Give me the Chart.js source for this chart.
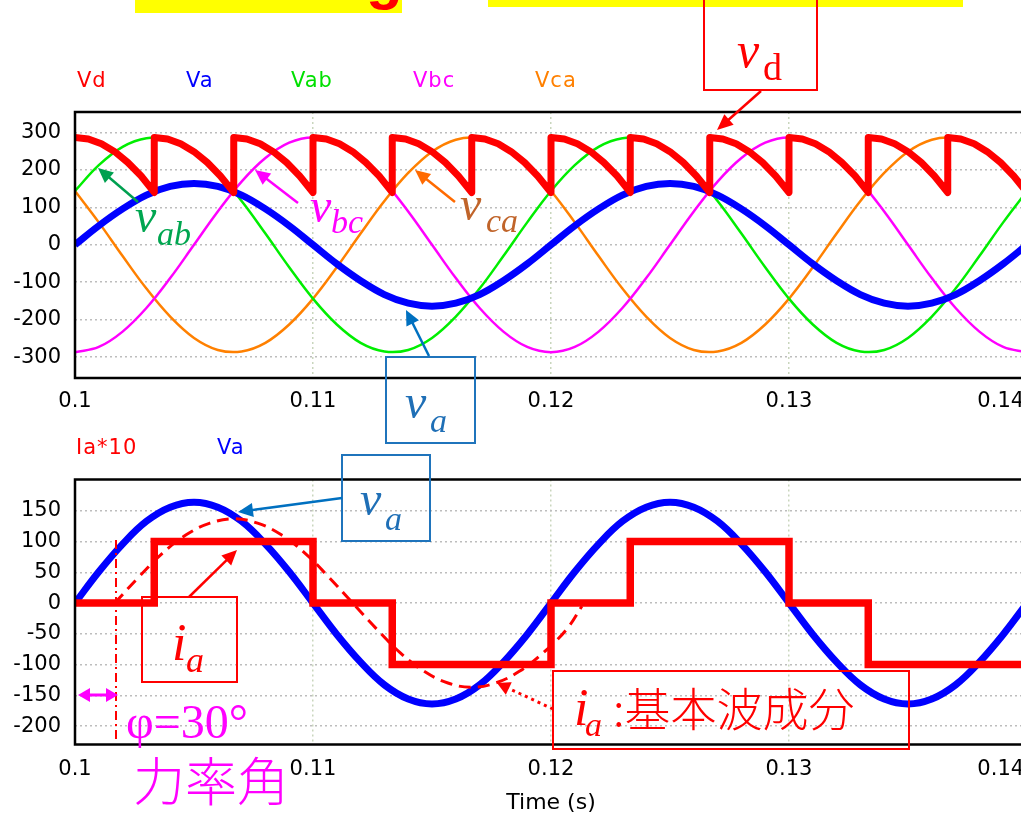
<!DOCTYPE html>
<html>
<head>
<meta charset="utf-8">
<script src="https://cdn.jsdelivr.net/npm/chart.js@4.4.1/dist/chart.umd.min.js"></script>
<style>
    html, body { margin: 0; padding: 0; background: #fff; overflow: hidden; }
    body { width: 1021px; height: 816px; position: relative; }
    #top { position: absolute; left: 0; top: 0; }
    #bot { position: absolute; left: 0; top: 420px; }
    #marks { position: absolute; left: 0; top: 0; }
</style>
</head>
<body>
<canvas id="top" width="1120" height="420"></canvas>
<canvas id="bot" width="1120" height="400"></canvas>
<svg id="marks" width="1021" height="816"></svg>
<script>
// 时间 (s)
var t = [0.100, 0.101, 0.102, 0.103, 0.104, 0.105, 0.106, 0.107, 0.108, 0.109,
    0.110, 0.111, 0.112, 0.113, 0.114, 0.115, 0.116, 0.117, 0.118, 0.119,
    0.120, 0.121, 0.122, 0.123, 0.124, 0.125, 0.126, 0.127, 0.128, 0.129,
    0.130, 0.131, 0.132, 0.133, 0.134, 0.135, 0.136, 0.137, 0.138, 0.139, 0.140];

// 相电压 Va
var va = [0, 51, 96, 133, 156, 164, 156, 133, 96, 51,
    0, -51, -96, -133, -156, -164, -156, -133, -96, -51,
    0, 51, 96, 133, 156, 164, 156, 133, 96, 51,
    0, -51, -96, -133, -156, -164, -156, -133, -96, -51, 0];

// 线电压
var vab = [144, 213, 262, 285, 281, 249, 192, 117, 30, -60,
    -144, -213, -262, -285, -281, -249, -192, -117, -30, 60,
    144, 213, 262, 285, 281, 249, 192, 117, 30, -60,
    -144, -213, -262, -285, -281, -249, -192, -117, -30, 60, 144];
var vbc = [-287, -273, -232, -169, -89, 0, 89, 169, 232, 273,
    287, 273, 232, 169, 89, 0, -89, -169, -232, -273,
    -287, -273, -232, -169, -89, 0, 89, 169, 232, 273,
    287, 273, 232, 169, 89, 0, -89, -169, -232, -273, -287];
var vca = [144, 60, -30, -117, -192, -249, -281, -285, -262, -213,
    -144, -60, 30, 117, 192, 249, 281, 285, 262, 213,
    144, 60, -30, -117, -192, -249, -281, -285, -262, -213,
    -144, -60, 30, 117, 192, 249, 281, 285, 262, 213, 144];

// 直流电压 Vd
var vdTime = [0.1, 0.10056, 0.10111, 0.10167, 0.10222, 0.10278, 0.10333,
    0.10333, 0.10389, 0.10444, 0.105, 0.10556, 0.10611, 0.10667,
    0.10667, 0.10722, 0.10778, 0.10833, 0.10889, 0.10944, 0.11,
    0.11, 0.11056, 0.11111, 0.11167, 0.11222, 0.11278, 0.11333,
    0.11333, 0.11389, 0.11444, 0.115, 0.11556, 0.11611, 0.11667,
    0.11667, 0.11722, 0.11778, 0.11833, 0.11889, 0.11944, 0.12,
    0.12, 0.12056, 0.12111, 0.12167, 0.12222, 0.12278, 0.12333,
    0.12333, 0.12389, 0.12444, 0.125, 0.12556, 0.12611, 0.12667,
    0.12667, 0.12722, 0.12778, 0.12833, 0.12889, 0.12944, 0.13,
    0.13, 0.13056, 0.13111, 0.13167, 0.13222, 0.13278, 0.13333,
    0.13333, 0.13389, 0.13444, 0.135, 0.13556, 0.13611, 0.13667,
    0.13667, 0.13722, 0.13778, 0.13833, 0.13889, 0.13944, 0.14];
var vdValue = [287, 283, 270, 249, 220, 184, 140,
    287, 283, 270, 249, 220, 184, 140,
    287, 283, 270, 249, 220, 184, 140,
    287, 283, 270, 249, 220, 184, 140,
    287, 283, 270, 249, 220, 184, 140,
    287, 283, 270, 249, 220, 184, 140,
    287, 283, 270, 249, 220, 184, 140,
    287, 283, 270, 249, 220, 184, 140,
    287, 283, 270, 249, 220, 184, 140,
    287, 283, 270, 249, 220, 184, 140,
    287, 283, 270, 249, 220, 184, 140,
    287, 283, 270, 249, 220, 184, 140];

// 电流 Ia*10 (阶梯)
var iaTime = [0.1, 0.10333, 0.11, 0.11333, 0.12, 0.12333, 0.13, 0.13333, 0.14];
var iaValue = [0, 100, 0, -100, 0, 100, 0, -100, -100];

// 基本波成分
var fundTime = [0.10167, 0.10267, 0.10367, 0.10467, 0.10567, 0.10667, 0.10767, 0.10867, 0.10967, 0.11067,
    0.11167, 0.11267, 0.11367, 0.11467, 0.11567, 0.11667, 0.11767, 0.11867, 0.11967, 0.12067, 0.1213];
var fundValue = [0, 42, 81, 111, 130, 137, 130, 111, 81, 42,
    0, -42, -81, -111, -130, -137, -130, -111, -81, -42, -5];

var xTicks = [0.1, 0.11, 0.12, 0.13, 0.14];
// 最后一个标签在原图中被挤进窗口内
var xTickLabels = ['0.1', '0.11', '0.12', '0.13', '0.14\u2003\u2003\u2002'];
var topYTicks = [300, 200, 100, 0, -100, -200, -300];
var topYLabels = ['300', '200', '100', '0', '-100', '-200', '-300'];
var botYTicks = [150, 100, 50, 0, -50, -100, -150, -200];
var botYLabels = ['150', '100', '50', '0', '-50', '-100', '-150', '-200'];

function pts(xs, ys) {
    return xs.map(function (x, i) { return {x: x, y: ys[i]}; });
}

var tickFont = {family: 'DejaVu Sans', size: 21};

// 黑色外框
var framePlugin = {
    id: 'frame',
    afterDatasetsDraw: function (chart) {
        var ctx = chart.ctx, a = chart.chartArea;
        ctx.save();
        ctx.strokeStyle = '#000';
        ctx.lineWidth = 2.5;
        ctx.strokeRect(a.left, a.top, a.right - a.left, a.bottom - a.top);
        ctx.restore();
    }
};

function axes(yMin, yMax, yTicks, yLabels, xHeight, xPad, title) {
    return {
        x: {
            type: 'linear', min: 0.1, max: 0.14,
            afterBuildTicks: function (s) { s.ticks = xTicks.map(function (v) { return {value: v}; }); },
            afterFit: function (s) { s.height = xHeight; },
            grid: {color: '#c9d6bd', lineWidth: 1.5, drawTicks: false},
            border: {display: false, dash: [2, 3]},
            ticks: {
                padding: xPad, maxRotation: 0, autoSkip: false, color: '#000', font: tickFont,
                callback: function (v, i) { return xTickLabels[i]; }
            },
            title: {
                display: !!title, text: title || '', color: '#000',
                font: {family: 'DejaVu Sans', size: 22}, padding: {top: 0, bottom: 4}
            }
        },
        y: {
            min: yMin, max: yMax,
            afterBuildTicks: function (s) { s.ticks = yTicks.map(function (v) { return {value: v}; }); },
            afterFit: function (s) { s.width = 75; },
            grid: {color: '#bdbdbd', lineWidth: 1.5, drawTicks: false},
            border: {display: false, dash: [2, 3]},
            ticks: {
                padding: 14, color: '#000', font: tickFont,
                callback: function (v, i) { return yLabels[i]; }
            }
        }
    };
}

var common = {
    responsive: false,
    animation: false,
    plugins: {legend: {display: false}, tooltip: {enabled: false}},
    elements: {point: {radius: 0}}
};

// 上图 电压
var topChart = new Chart(document.getElementById('top').getContext('2d'), {
    type: 'line',
    data: {
        datasets: [
            {label: 'Vd', data: pts(vdTime, vdValue), borderColor: '#ff0000', borderWidth: 7, tension: 0, borderJoinStyle: 'round'},
            {label: 'Va', data: pts(t, va), borderColor: '#0000ff', borderWidth: 7, tension: 0.4},
            {label: 'Vab', data: pts(t, vab), borderColor: '#00ee00', borderWidth: 2.5, tension: 0.4},
            {label: 'Vbc', data: pts(t, vbc), borderColor: '#ff00ff', borderWidth: 2.5, tension: 0.4},
            {label: 'Vca', data: pts(t, vca), borderColor: '#ff8000', borderWidth: 2.5, tension: 0.4}
        ]
    },
    options: Object.assign({}, common, {
        layout: {padding: {top: 112, right: 93, bottom: 0, left: 0}},
        scales: axes(-356, 355, topYTicks, topYLabels, 42, 11, null)
    }),
    plugins: [framePlugin]
});

// 下图 电流
var botChart = new Chart(document.getElementById('bot').getContext('2d'), {
    type: 'line',
    data: {
        datasets: [
            {label: 'Ia*10', data: pts(iaTime, iaValue), borderColor: '#ff0000', borderWidth: 7.5, stepped: true, borderCapStyle: 'round'},
            {label: 'fund', data: pts(fundTime, fundValue), borderColor: '#ff0000', borderWidth: 3, borderDash: [12, 7], tension: 0.4},
            {label: 'Va', data: pts(t, va), borderColor: '#0000ff', borderWidth: 7, tension: 0.4}
        ]
    },
    options: Object.assign({}, common, {
        layout: {padding: {top: 59.5, right: 93, bottom: 0, left: 0}},
        scales: axes(-230, 201, botYTicks, botYLabels, 75.5, 12, 'Time (s)')
    }),
    plugins: [framePlugin]
});

// 注释
var NS = 'http://www.w3.org/2000/svg';
var svg = document.getElementById('marks');

function add(tag, attrs, text) {
    var e = document.createElementNS(NS, tag);
    for (var k in attrs) e.setAttribute(k, attrs[k]);
    if (text) e.textContent = text;
    svg.appendChild(e);
    return e;
}

function txt(x, y, s, color, size, family, italic, extra) {
    var a = {x: x, y: y, fill: color, 'font-size': size, 'font-family': family, 'font-style': italic ? 'italic' : 'normal'};
    for (var k in extra || {}) a[k] = extra[k];
    return add('text', a, s);
}

function box(x, y, w, h, color) {
    add('rect', {x: x, y: y, width: w, height: h, fill: 'none', stroke: color, 'stroke-width': 2});
}

function head(x, y, ux, uy, color, hl, hw) {
    var bx = x - ux * hl, by = y - uy * hl;
    add('polygon', {
        points: x + ',' + y + ' ' + (bx - uy * hw) + ',' + (by + ux * hw) + ' ' + (bx + uy * hw) + ',' + (by - ux * hw),
        fill: color
    });
}

function arrow(x1, y1, x2, y2, color, w, dash, both, hl, hw) {
    hl = hl || 16; hw = hw || 7;
    var dx = x2 - x1, dy = y2 - y1, len = Math.sqrt(dx * dx + dy * dy);
    var ux = dx / len, uy = dy / len;
    add('line', {
        x1: both ? x1 + ux * hl * 0.8 : x1, y1: both ? y1 + uy * hl * 0.8 : y1,
        x2: x2 - ux * hl * 0.8, y2: y2 - uy * hl * 0.8,
        stroke: color, 'stroke-width': w, 'stroke-dasharray': dash || 'none'
    });
    head(x2, y2, ux, uy, color, hl, hw);
    if (both) head(x1, y1, -ux, -uy, color, hl, hw);
}

var SERIF = 'Liberation Serif, Times New Roman, serif';
var SANS = 'DejaVu Sans, sans-serif';
var CJK = 'Noto Sans CJK JP, sans-serif';

// 顶部黄色标题条
add('rect', {x: 135, y: 0, width: 267, height: 13, fill: '#ffff00'});
txt(366, -2, 'g', '#ff0000', 60, 'Liberation Sans, sans-serif', false, {'font-weight': 'bold'});
add('rect', {x: 488, y: 0, width: 475, height: 7, fill: '#ffff00'});

// 图例
txt(77, 87, 'Vd', '#ff0000', 21, SANS, false, {'letter-spacing': 1});
txt(186, 87, 'Va', '#0000ff', 21, SANS, false, {'letter-spacing': 1});
txt(291, 87, 'Vab', '#00e000', 21, SANS, false, {'letter-spacing': 1});
txt(413, 87, 'Vbc', '#ff00ff', 21, SANS, false, {'letter-spacing': 1});
txt(535, 87, 'Vca', '#ff8000', 21, SANS, false, {'letter-spacing': 1});
txt(76, 454, 'Ia*10', '#ff0000', 21, SANS, false, {'letter-spacing': 1});
txt(217, 454, 'Va', '#0000ff', 21, SANS, false, {'letter-spacing': 1});

// v_d
box(704, -2, 113, 92, '#ff0000');
txt(737, 67, 'v', '#ff0000', 50, SERIF, true);
txt(763, 80, 'd', '#ff0000', 38, SERIF, false);
arrow(761, 91, 717, 130, '#ff0000', 2.5);

// v_ab, v_bc, v_ca
txt(135, 232, 'v', '#00a650', 48, SERIF, true);
txt(157, 245, 'ab', '#00a650', 34, SERIF, true);
arrow(138, 202, 98, 168, '#00a050', 2.5, null, false, 15, 7);
txt(310, 222, 'v', '#ff00ff', 48, SERIF, true);
txt(331, 233, 'bc', '#ff00ff', 34, SERIF, true);
arrow(298, 203, 255, 170, '#ff00ff', 2.5, null, false, 15, 7);
txt(460, 220, 'v', '#c0642a', 48, SERIF, true);
txt(486, 232, 'ca', '#c0642a', 34, SERIF, true);
arrow(455, 202, 415, 170, '#ff6a00', 2.5, null, false, 15, 7);

// v_a (上)
box(386, 357, 89, 86, '#1f74bc');
txt(405, 418, 'v', '#1f6fb6', 48, SERIF, true);
txt(430, 432, 'a', '#1f6fb6', 34, SERIF, true);
arrow(429, 356, 406, 310, '#0070c0', 2.5, null, false, 15, 7);

// v_a (下)
box(342, 455, 88, 86, '#1f74bc');
txt(360, 515, 'v', '#1f6fb6', 48, SERIF, true);
txt(385, 530, 'a', '#1f6fb6', 34, SERIF, true);
arrow(342, 498, 238, 512, '#0070c0', 2.5, null, false, 15, 7);

// i_a
box(142, 597, 95, 85, '#ff0000');
txt(172, 660, 'i', '#ff0000', 52, SERIF, true);
txt(186, 672, 'a', '#ff0000', 36, SERIF, true);
arrow(189, 597, 237, 550, '#ff0000', 2.5, null, false, 15, 7);

// 基本波成分
box(553, 671, 356, 78, '#ff0000');
txt(574, 725, 'i', '#ff0000', 52, SERIF, true);
txt(585, 736, 'a', '#ff0000', 34, SERIF, true);
txt(613, 726, ':基本波成分', '#ff0000', 46, CJK, false, {'font-weight': 300});
arrow(553, 709, 497, 683, '#ff0000', 3, '3 4', false, 13, 7);

// 力率角
add('line', {x1: 116, y1: 540, x2: 116, y2: 740, stroke: '#ff0000', 'stroke-width': 2, 'stroke-dasharray': '9 4 2 4'});
arrow(78, 695, 118, 695, '#ff00ff', 3, null, true, 12, 7);
txt(126, 738, 'φ=30°', '#ff00ff', 48, SERIF, false);
txt(133, 801, '力率角', '#ff00ff', 52, CJK, false, {'font-weight': 300});
</script>
</body>
</html>
